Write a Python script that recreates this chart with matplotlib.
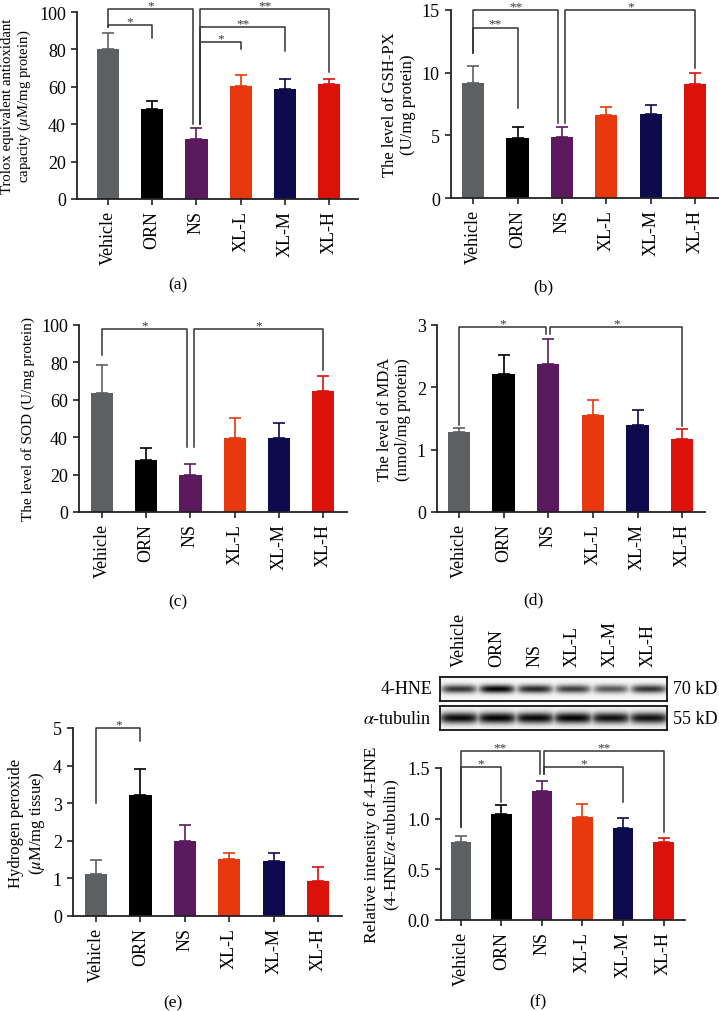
import matplotlib
matplotlib.use('Agg')
import matplotlib.pyplot as plt
import numpy as np

plt.rcParams['font.family'] = ['Liberation Serif', 'DejaVu Serif']
plt.rcParams['mathtext.fontset'] = 'stix'

# data
groups = ['Vehicle', 'ORN', 'NS', 'XL-L', 'XL-M', 'XL-H']
colors = ['#5d6063', '#000000', '#5c1a5e', '#e8380d', '#0d0b4d', '#dc1109']

teac_mean = [80, 48, 32, 60.5, 59, 61.5]
teac_err = [9, 4.5, 6, 6, 5, 2.5]
gsh_mean = [9.2, 4.8, 4.9, 6.6, 6.7, 9.1]
gsh_err = [1.3, 0.9, 0.8, 0.7, 0.7, 0.9]
sod_mean = [63.5, 28, 20, 39.5, 39.5, 64.5]
sod_err = [15, 6, 5.5, 11, 8, 8]
mda_mean = [1.28, 2.22, 2.38, 1.56, 1.40, 1.17]
mda_err = [0.07, 0.30, 0.40, 0.24, 0.24, 0.16]
h2o2_mean = [1.13, 3.22, 2.0, 1.52, 1.47, 0.92]
h2o2_err = [0.37, 0.68, 0.42, 0.16, 0.21, 0.38]
hne_mean = [0.77, 1.05, 1.27, 1.02, 0.91, 0.77]
hne_err = [0.06, 0.08, 0.10, 0.12, 0.10, 0.04]

# western blot band strength (relative darkness)
hne_band = [0.80, 1.0, 0.85, 0.75, 0.65, 0.80]
tub_band = [0.97, 1.0, 0.98, 1.0, 0.95, 0.94]

# significance brackets: (i, j, height, drop_i, drop_j, label, dx_i, dx_j)
br_a = [(0, 2, 101.5, 92, 40, '*', 0, -0.08),
        (0, 1, 93, 92, 86, '*', 0, 0),
        (2, 5, 101.5, 40, 68, '**', 0.08, 0),
        (2, 4, 92, 40, 79, '**', 0.08, 0),
        (2, 3, 84, 40, 80, '*', 0.08, 0)]
br_b = [(0, 2, 15.0, 11.6, 6.0, '**', 0, -0.08),
        (0, 1, 13.6, 11.6, 7.2, '**', 0, 0),
        (2, 5, 15.0, 6.0, 10.4, '*', 0.08, 0)]
br_c = [(0, 2, 98, 84, 35, '*', 0, -0.08),
        (2, 5, 98, 35, 76, '*', 0.08, 0)]
br_d = [(0, 2, 2.97, 1.40, 2.85, '*', 0, -0.05),
        (2, 5, 2.97, 2.85, 1.38, '*', 0.05, 0)]
br_e = [(0, 1, 5.0, 3.0, 4.65, '*', 0, 0)]
br_f = [(0, 2, 1.67, 0.92, 1.44, '**', 0, -0.05),
        (0, 1, 1.51, 0.92, 1.16, '*', 0, 0),
        (2, 5, 1.67, 1.44, 0.87, '**', 0.05, 0),
        (2, 4, 1.51, 1.44, 1.16, '*', 0.05, 0)]

W, H = 719, 1012
fig = plt.figure(figsize=(W / 100, H / 100), dpi=100)


def px_axes(left, right, top, bottom):
    return fig.add_axes([left / W, 1 - bottom / H, (right - left) / W, (bottom - top) / H])


def bar_panel(ax, mean, err, ylim, step, ylabel, xlim, brackets, fmt=None, lsize=12):
    x = np.arange(len(groups))
    ax.bar(x, mean, width=0.5, color=colors, zorder=2)
    for k in range(len(groups)):
        ax.errorbar(x[k], mean[k], yerr=[[0], [err[k]]], color=colors[k],
                    capsize=4, elinewidth=1.2, capthick=1.2, zorder=1)
    ax.set_ylim(0, ylim)
    ax.set_xlim(*xlim)
    ticks = np.arange(0, ylim + step / 2, step)
    ax.set_yticks(ticks)
    if fmt:
        ax.set_yticklabels([fmt.format(t) for t in ticks])
    ax.set_xticks(x)
    ax.set_xticklabels(groups, rotation=90)
    ax.spines['top'].set_visible(False)
    ax.spines['right'].set_visible(False)
    for s in ['left', 'bottom']:
        ax.spines[s].set_linewidth(1.3)
        ax.spines[s].set_color('#222222')
    ax.tick_params(labelsize=13, width=1.2, length=4.5, color='#222222')
    ax.set_ylabel(ylabel, fontsize=lsize, labelpad=4)
    for i, j, y, yi, yj, lab, di, dj in brackets:
        xi, xj = i + di, j + dj
        ax.plot([xi, xi, xj, xj], [yi, y, y, yj], color='#333333', lw=1.1,
                clip_on=False, zorder=3)
        ax.text((xi + xj) / 2, y + ylim * 0.004, lab, ha='center', va='baseline',
                fontsize=9.5, color='#333333', clip_on=False)


ax_a = px_axes(77, 358, 13, 200)
bar_panel(ax_a, teac_mean, teac_err, 100, 20,
          'Trolox equivalent antioxidant\ncapacity ($\\mu$M/mg protein)', (-0.7, 5.65), br_a,
          lsize=10.6)
ax_b = px_axes(451, 719, 11, 199)
bar_panel(ax_b, gsh_mean, gsh_err, 15, 5,
          'The level of GSH-PX\n(U/mg protein)', (-0.5, 5.54), br_b)
ax_c = px_axes(79, 347, 326, 513)
bar_panel(ax_c, sod_mean, sod_err, 100, 20,
          'The level of SOD (U/mg protein)', (-0.52, 5.54), br_c, lsize=11)
ax_d = px_axes(437, 705, 326, 513)
bar_panel(ax_d, mda_mean, mda_err, 3, 1,
          'The level of MDA\n(nmol/mg protein)', (-0.49, 5.51), br_d)
ax_e = px_axes(73, 342, 729, 917)
bar_panel(ax_e, h2o2_mean, h2o2_err, 5, 1,
          'Hydrogen peroxide\n($\\mu$M/mg tissue)', (-0.52, 5.54), br_e)
ax_f = px_axes(441, 685, 769, 921)
bar_panel(ax_f, hne_mean, hne_err, 1.5, 0.5,
          'Relative intensity of 4-HNE\n(4-HNE/$\\alpha$-tubulin)', (-0.49, 5.53), br_f,
          fmt='{:.1f}', lsize=12.5)

# panel letters
for lab, xp, yp in [('(a)', 178, 285), ('(b)', 543, 287), ('(c)', 178, 602),
                    ('(d)', 533, 600), ('(e)', 173, 1003), ('(f)', 538, 1002)]:
    fig.text(xp / W, 1 - yp / H, lab, ha='center', va='center', fontsize=12.5)


# western blot strips
def blot(ax, strength, half_w, sig):
    nx, ny = 400, 40
    xx = np.linspace(0, 1, nx)
    yy = np.linspace(-1, 1, ny)
    dark = np.zeros((ny, nx))
    for k, s in enumerate(strength):
        cx = (k + 0.5) / len(strength)
        prof_x = 1 / (1 + np.exp((np.abs(xx - cx) - half_w) / 0.012))
        prof_y = np.exp(-(yy[:, None] / sig) ** 2)
        dark = np.maximum(dark, s * prof_x[None, :] * prof_y)
    img = 0.97 - 0.96 * dark
    ax.imshow(img, cmap='gray', vmin=0, vmax=1, aspect='auto', extent=(0, 1, 0, 1))
    ax.set_xticks([])
    ax.set_yticks([])
    for s in ax.spines.values():
        s.set_linewidth(1.3)
        s.set_color('#111111')


ax_b1 = px_axes(440, 667, 678, 702)
blot(ax_b1, hne_band, 0.072, 0.36)
ax_b2 = px_axes(440, 667, 707, 731)
blot(ax_b2, tub_band, 0.08, 0.48)

for k, g in enumerate(groups):
    xc = 440 + (k + 0.5) * 227 / 6
    fig.text(xc / W, 1 - 667 / H, g, rotation=90, ha='center', va='bottom', fontsize=13)
fig.text(432 / W, 1 - 690 / H, '4-HNE', ha='right', va='center', fontsize=13)
fig.text(432 / W, 1 - 719 / H, '$\\alpha$-tubulin', ha='right', va='center', fontsize=13)
fig.text(673 / W, 1 - 690 / H, '70 kD', ha='left', va='center', fontsize=13)
fig.text(673 / W, 1 - 719 / H, '55 kD', ha='left', va='center', fontsize=13)

fig.savefig('out.png', dpi=100)
